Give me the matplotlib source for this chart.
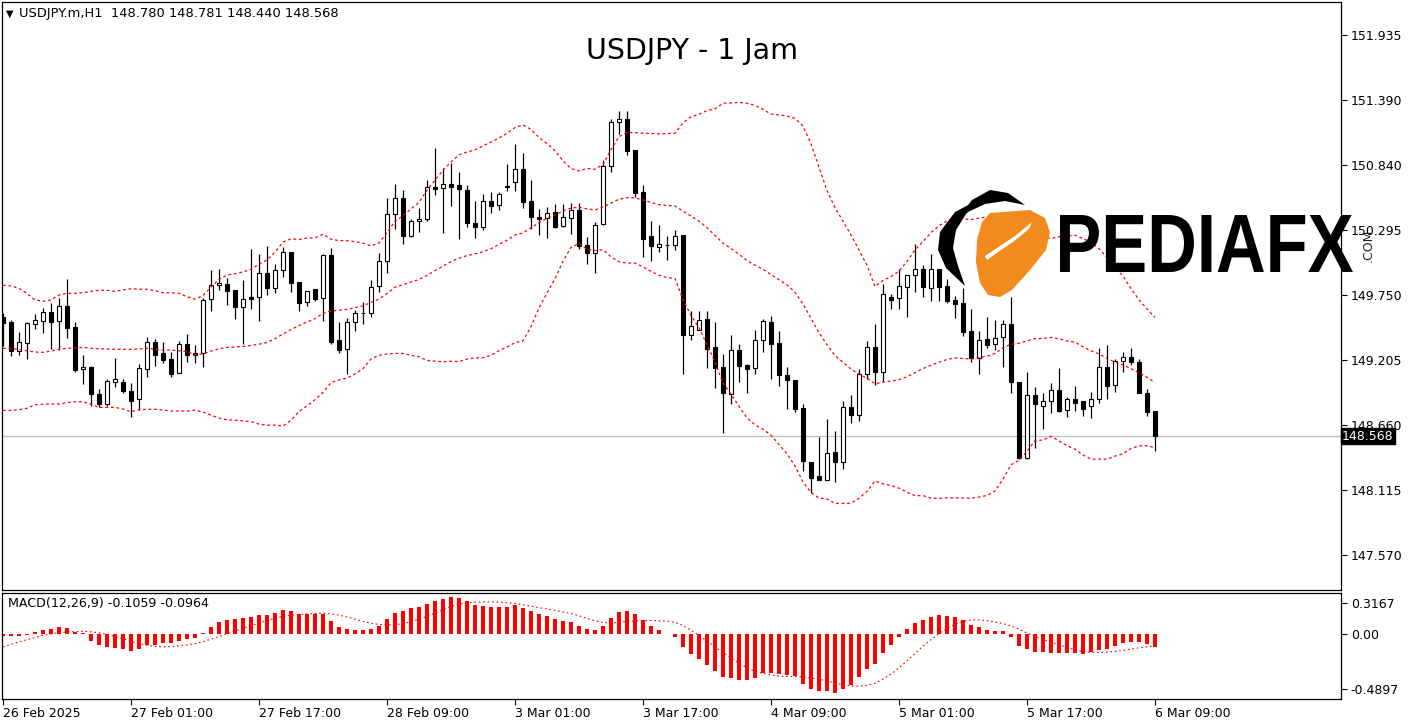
import numpy as np
import pandas as pd
import matplotlib
matplotlib.use("Agg")
import matplotlib.pyplot as plt
from matplotlib.patches import Rectangle, Polygon, PathPatch
from matplotlib.textpath import TextPath
from matplotlib.font_manager import FontProperties
from matplotlib.transforms import Affine2D, blended_transform_factory

# ---------------- data (USDJPY H1) ----------------
opens = [
149.566, 149.526, 149.285, 149.353, 149.512, 149.537, 149.610, 149.532, 149.658, 149.482,
149.129, 149.149, 148.922, 148.836, 149.020, 149.020, 148.947, 148.877, 149.129, 149.356,
149.266, 149.216, 149.096, 149.342, 149.266, 149.264, 149.717, 149.834, 149.845, 149.792,
149.650, 149.734, 149.734, 149.935, 149.809, 149.960, 150.111, 149.860, 149.692, 149.801,
149.725, 150.086, 149.375, 149.297, 149.524, 149.599, 149.599, 149.826, 150.036, 150.430,
150.565, 150.246, 150.372, 150.389, 150.657, 150.649, 150.682, 150.674, 150.634, 150.355,
150.321, 150.539, 150.506, 150.665, 150.699, 150.808, 150.539, 150.405, 150.397, 150.447,
150.329, 150.397, 150.464, 150.170, 150.108, 150.351, 150.833, 151.203, 151.228, 150.967,
150.615, 150.248, 150.158, 150.175, 150.170, 150.254, 149.415, 149.462, 149.549, 149.314,
149.146, 148.924, 149.289, 149.163, 149.138, 149.373, 149.526, 149.347, 149.079, 149.039,
148.803, 148.348, 148.231, 148.200, 148.435, 148.348, 148.810, 148.743, 149.087, 149.314,
149.104, 149.736, 149.725, 149.823, 149.918, 149.971, 149.809, 149.971, 149.826, 149.711,
149.686, 149.451, 149.222, 149.384, 149.339, 149.398, 149.507, 149.020, 148.382, 148.914,
148.824, 148.861, 148.953, 148.785, 148.877, 148.861, 148.824, 148.877, 149.149, 148.995,
149.196, 149.232, 149.188, 148.928, 148.780]
highs = [
149.599, 149.543, 149.442, 149.526, 149.591, 149.641, 149.688, 149.728, 149.885, 149.524,
149.249, 149.155, 148.964, 149.048, 149.227, 149.045, 149.014, 149.174, 149.400, 149.386,
149.358, 149.272, 149.367, 149.426, 149.333, 149.728, 149.963, 149.971, 149.893, 149.792,
149.879, 150.139, 150.097, 150.164, 150.013, 150.156, 150.116, 149.860, 149.784, 149.801,
150.100, 150.147, 149.526, 149.557, 149.627, 149.694, 149.879, 150.103, 150.567, 150.685,
150.635, 150.391, 150.483, 150.718, 150.987, 150.817, 150.861, 150.785, 150.676, 150.542,
150.601, 150.617, 150.617, 150.852, 151.020, 150.945, 150.718, 150.475, 150.491, 150.517,
150.517, 150.523, 150.523, 150.240, 150.366, 150.886, 151.230, 151.295, 151.295, 150.967,
150.674, 150.374, 150.338, 150.248, 150.296, 150.254, 149.619, 149.619, 149.619, 149.526,
149.258, 149.415, 149.339, 149.177, 149.459, 149.552, 149.577, 149.451, 149.148, 149.039,
148.838, 148.348, 148.561, 148.709, 148.611, 148.863, 148.914, 149.129, 149.367, 149.509,
149.848, 149.759, 149.969, 149.918, 150.178, 150.008, 150.097, 149.971, 149.887, 149.747,
149.809, 149.633, 149.451, 149.566, 149.543, 149.543, 149.734, 149.025, 149.104, 148.983,
148.928, 149.011, 149.143, 148.899, 148.991, 148.861, 148.936, 149.310, 149.333, 149.216,
149.277, 149.310, 149.216, 148.967, 148.781]
lows = [
149.325, 149.241, 149.249, 149.218, 149.468, 149.437, 149.300, 149.291, 149.395, 149.109,
149.003, 148.824, 148.810, 148.824, 148.978, 148.933, 148.731, 148.784, 149.067, 149.160,
149.185, 149.067, 149.096, 149.193, 149.180, 149.151, 149.621, 149.795, 149.672, 149.554,
149.344, 149.638, 149.537, 149.755, 149.772, 149.907, 149.781, 149.621, 149.663, 149.705,
149.537, 149.344, 149.268, 149.090, 149.453, 149.512, 149.571, 149.778, 149.935, 150.309,
150.184, 150.238, 150.284, 150.377, 150.595, 150.276, 150.496, 150.226, 150.326, 150.234,
150.301, 150.439, 150.469, 150.628, 150.628, 150.486, 150.309, 150.259, 150.234, 150.318,
150.326, 150.262, 150.139, 150.016, 149.940, 150.340, 150.788, 151.104, 150.930, 150.578,
150.074, 150.041, 150.116, 150.049, 150.133, 149.092, 149.377, 149.457, 149.143, 148.975,
148.592, 148.836, 149.025, 148.927, 149.087, 149.272, 149.050, 148.992, 148.800, 148.770,
148.278, 148.088, 148.197, 148.200, 148.186, 148.295, 148.681, 148.698, 149.045, 148.998,
149.031, 149.638, 149.638, 149.571, 149.781, 149.736, 149.703, 149.703, 149.688, 149.562,
149.409, 149.193, 149.087, 149.311, 149.291, 149.151, 148.933, 148.380, 148.375, 148.466,
148.627, 148.760, 148.768, 148.731, 148.782, 148.740, 148.718, 148.849, 148.877, 148.939,
149.109, 149.163, 148.928, 148.740, 148.440]
closes = [
149.520, 149.285, 149.356, 149.515, 149.541, 149.610, 149.529, 149.658, 149.479, 149.126,
149.149, 148.924, 148.836, 149.031, 149.045, 148.950, 148.866, 149.140, 149.356, 149.252,
149.210, 149.092, 149.339, 149.252, 149.252, 149.708, 149.834, 149.851, 149.789, 149.650,
149.717, 149.722, 149.935, 149.809, 149.960, 150.111, 149.856, 149.688, 149.784, 149.722,
150.086, 149.361, 149.294, 149.524, 149.599, 149.604, 149.818, 150.036, 150.430, 150.565,
150.246, 150.372, 150.391, 150.657, 150.645, 150.682, 150.662, 150.640, 150.360, 150.326,
150.539, 150.502, 150.598, 150.660, 150.808, 150.536, 150.405, 150.391, 150.444, 150.326,
150.405, 150.464, 150.167, 150.108, 150.338, 150.833, 151.203, 151.233, 150.964, 150.611,
150.225, 150.167, 150.178, 150.172, 150.246, 149.415, 149.490, 149.541, 149.297, 149.143,
148.933, 149.289, 149.160, 149.135, 149.373, 149.532, 149.344, 149.084, 149.042, 148.800,
148.362, 148.219, 148.202, 148.427, 148.348, 148.813, 148.743, 149.087, 149.314, 149.104,
149.759, 149.714, 149.826, 149.918, 149.969, 149.823, 149.969, 149.823, 149.703, 149.680,
149.445, 149.222, 149.373, 149.336, 149.389, 149.507, 149.020, 148.387, 148.914, 148.836,
148.861, 148.953, 148.782, 148.877, 148.844, 148.793, 148.877, 149.149, 148.992, 149.196,
149.232, 149.188, 148.928, 148.773, 148.568]

# Bollinger bands (25, 2) for the first bars (history before the visible window)
bb_upper_head = [149.834, 149.829, 149.809, 149.767, 149.711, 149.700, 149.711, 149.753,
                 149.767, 149.767, 149.772, 149.784, 149.792, 149.792, 149.784, 149.795,
                 149.806, 149.801, 149.801, 149.789, 149.772, 149.772, 149.767, 149.739]
bb_mid_head = [149.306, 149.302, 149.297, 149.285, 149.274, 149.272, 149.283, 149.297,
               149.306, 149.308, 149.314, 149.306, 149.302, 149.300, 149.297, 149.297,
               149.297, 149.300, 149.306, 149.297, 149.291, 149.291, 149.285, 149.277]
bb_lower_head = [148.785, 148.785, 148.790, 148.802, 148.832, 148.836, 148.838, 148.838,
                 148.849, 148.857, 148.857, 148.836, 148.810, 148.810, 148.810, 148.796,
                 148.773, 148.790, 148.794, 148.794, 148.788, 148.779, 148.779, 148.779]

# MACD(12,26,9) main values (histogram)
macd_main = [
-0.012, -0.012, -0.012, -0.010, 0.017, 0.040, 0.048, 0.062, 0.053, 0.020,
0.015, -0.056, -0.087, -0.106, -0.112, -0.120, -0.137, -0.126, -0.092, -0.087,
-0.076, -0.073, -0.053, -0.036, -0.028, 0.014, 0.064, 0.104, 0.123, 0.132,
0.140, 0.143, 0.160, 0.165, 0.182, 0.207, 0.199, 0.174, 0.174, 0.168,
0.168, 0.112, 0.064, 0.045, 0.036, 0.036, 0.045, 0.070, 0.132, 0.182,
0.196, 0.218, 0.227, 0.252, 0.280, 0.300, 0.3167, 0.305, 0.280, 0.249,
0.238, 0.232, 0.232, 0.232, 0.244, 0.221, 0.196, 0.171, 0.154, 0.129,
0.112, 0.104, 0.073, 0.045, 0.036, 0.070, 0.137, 0.188, 0.196, 0.171,
0.120, 0.073, 0.036, 0.003, -0.020, -0.106, -0.165, -0.207, -0.258, -0.308,
-0.358, -0.367, -0.384, -0.384, -0.367, -0.325, -0.325, -0.333, -0.342, -0.353,
-0.417, -0.459, -0.480, -0.480, -0.4897, -0.459, -0.426, -0.358, -0.291, -0.249,
-0.157, -0.090, -0.020, 0.048, 0.095, 0.120, 0.146, 0.162, 0.154, 0.148,
0.120, 0.078, 0.064, 0.036, 0.028, 0.028, -0.022, -0.100, -0.125, -0.145,
-0.150, -0.155, -0.158, -0.158, -0.158, -0.165, -0.150, -0.135, -0.120, -0.095,
-0.075, -0.062, -0.064, -0.082, -0.1059]
macd_signal_head = [-0.106, -0.084, -0.064, -0.045, -0.028, -0.008, 0.003, 0.014]

price_ticks = [151.935, 151.390, 150.840, 150.295, 149.750, 149.205, 148.660, 148.115, 147.570]
price_tick_labels = ["151.935", "151.390", "150.840", "150.295", "149.750",
                     "149.205", "148.660", "148.115", "147.570"]
date_tick_index = [0, 16, 32, 48, 64, 80, 96, 112, 128, 144]
date_tick_labels = ["26 Feb 2025", "27 Feb 01:00", "27 Feb 17:00", "28 Feb 09:00",
                    "3 Mar 01:00", "3 Mar 17:00", "4 Mar 09:00", "5 Mar 01:00",
                    "5 Mar 17:00", "6 Mar 09:00"]
last_price = 148.568

# ---------------- indicators ----------------
cl = pd.Series(closes)
bb_mid = cl.rolling(25).mean().to_numpy()
bb_sd = cl.rolling(25).std(ddof=0).to_numpy()
bb_up = bb_mid + 2 * bb_sd
bb_lo = bb_mid - 2 * bb_sd
bb_mid[:24] = bb_mid_head
bb_up[:24] = bb_upper_head
bb_lo[:24] = bb_lower_head

sig = pd.Series(macd_main).rolling(9).mean().to_numpy()
sig[:8] = macd_signal_head

# ---------------- figure ----------------
W, H = 1413, 725
fig = plt.figure(figsize=(W / 100, H / 100), dpi=100, facecolor="white")


def rect(x0, y0, x1, y1):
    return [x0 / W, 1 - y1 / H, (x1 - x0) / W, (y1 - y0) / H]


ax = fig.add_axes(rect(2, 2, 1341, 590))
axm = fig.add_axes(rect(2, 593, 1341, 699))
px = Affine2D().scale(1 / W, -1 / H).translate(0, 1) + fig.transFigure

n = len(closes)
x = np.arange(n)
xlim = (-0.125, 167.25)

# candles
ax.vlines(x, lows, highs, color="black", lw=0.9, zorder=2)
for i in range(n):
    o, c = opens[i], closes[i]
    bull = c >= o
    ax.add_patch(Rectangle((i - 0.27, min(o, c)), 0.54, abs(c - o),
                           facecolor="white" if bull else "black",
                           edgecolor="black", lw=0.8, zorder=3))

dot = (0, (2.2, 2.2))
for band in (bb_up, bb_mid, bb_lo):
    ax.plot(x, band, color="#ff0000", lw=0.9, ls=dot, zorder=4)

ax.axhline(last_price, color="#c0c0c0", lw=1, zorder=1)

ax.set_xlim(*xlim)
ax.set_ylim(147.277, 152.212)
ax.set_xticks([])
ax.yaxis.tick_right()
ax.set_yticks(price_ticks)
ax.set_yticklabels(price_tick_labels)
ax.tick_params(axis="y", direction="out", length=4, width=0.8, labelsize=9, pad=3, colors="black")
for s in ax.spines.values():
    s.set_linewidth(0.9)
    s.set_color("black")
ax.set_facecolor("white")

ax.text(1.0008, last_price, "148.568", transform=blended_transform_factory(ax.transAxes, ax.transData),
        ha="left", va="center", color="white", fontsize=9, zorder=10, clip_on=False,
        bbox=dict(boxstyle="square,pad=0.12", fc="black", ec="black"))

# MACD panel
axm.bar(x, macd_main, width=0.38, color="#ff0000", zorder=2)
axm.plot(x, sig, color="#ff0000", lw=0.8, ls=(0, (1.5, 2.5)), zorder=3)
axm.set_xlim(*xlim)
axm.set_ylim(-0.5435, 0.347)
axm.yaxis.tick_right()
axm.set_yticks([0.263, 0.0, -0.4595])
axm.set_yticklabels(["0.3167", "0.00", "-0.4897"])
axm.tick_params(axis="y", direction="out", length=4, width=0.8, labelsize=9, pad=3)
axm.set_xticks(date_tick_index)
axm.set_xticklabels(date_tick_labels, ha="left")
axm.tick_params(axis="x", direction="out", length=4, width=0.8, labelsize=9, pad=2)
for s in axm.spines.values():
    s.set_linewidth(0.9)
    s.set_color("black")

# texts
fig.text(6 / W, 1 - 14 / H, "\u25bc", fontsize=7, va="center", ha="left")
fig.text(19 / W, 1 - 14 / H, "USDJPY.m,H1  148.780 148.781 148.440 148.568", fontsize=9.4,
         va="center", ha="left")
fig.text(692 / W, 1 - 51 / H, "USDJPY - 1 Jam", fontsize=20.5, va="center", ha="center")
fig.text(8 / W, 1 - 604 / H, "MACD(12,26,9) -0.1059 -0.0964", fontsize=9.1, va="center", ha="left")

# ---------------- PEDIAFX watermark ----------------
orange = [(990, 213), (1030, 210), (1045, 218), (1050, 232), (1046, 250), (1030, 270),
          (1012, 290), (1000, 297), (988, 295), (980, 283), (976, 262), (977, 240), (982, 222)]
fig.add_artist(Polygon(orange, closed=True, transform=px, fc="#f28a1e", ec="none", zorder=5))
swoosh = [(985, 256), (1000, 246), (1015, 236), (1032, 222), (1029, 229), (1013, 242),
          (998, 252), (987, 260)]
fig.add_artist(Polygon(swoosh, closed=True, transform=px, fc="white", ec="none", zorder=6))
crescent = [(978, 200), (955, 212), (940, 232), (938, 250), (946, 268), (965, 286),
            (958, 266), (953, 248), (956, 230), (966, 214)]
fig.add_artist(Polygon(crescent, closed=True, transform=px, fc="black", ec="none", zorder=5))
cap = [(958, 218), (972, 200), (990, 190), (1008, 193), (1025, 205), (1005, 201),
       (985, 204), (968, 212)]
fig.add_artist(Polygon(cap, closed=True, transform=px, fc="black", ec="none", zorder=5))

tp = TextPath((0, 0), "PEDIAFX", size=100, prop=FontProperties(family="Liberation Sans", weight="bold"))
bb = tp.get_extents()
x0, x1, ytop, ybot = 1060, 1353, 215, 272
sx = (x1 - x0) / bb.width
sy = (ybot - ytop) / bb.height
tr = Affine2D().translate(-bb.x0, -bb.y0).scale(sx, -sy).translate(x0, ybot) + px
fig.add_artist(PathPatch(tp, transform=tr, fc="black", ec="none", zorder=5))
fig.text(1368 / W, 1 - 245 / H, ".COM", rotation=90, fontsize=9, color="#222222",
         ha="center", va="center", zorder=6)

fig.savefig("out.png", dpi=100, facecolor="white")
